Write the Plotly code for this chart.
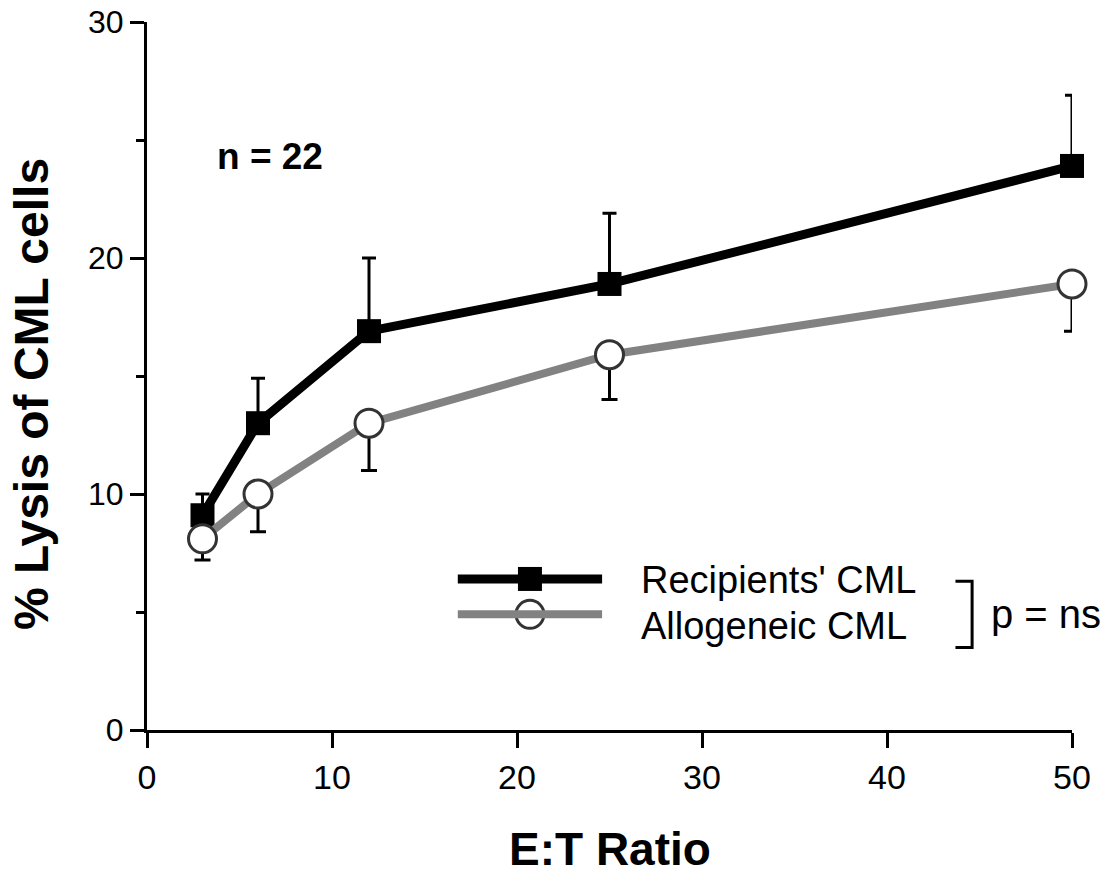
import plotly.graph_objects as go

# ---- data ----
et_ratio = [3, 6, 12, 25, 50]
recipients_mean = [9.1, 13.0, 16.9, 18.9, 23.9]
recipients_err_up = [0.9, 1.9, 3.1, 3.0, 3.0]
allogeneic_mean = [8.1, 10.0, 13.0, 15.9, 18.9]
allogeneic_err_down = [0.9, 1.6, 2.0, 1.9, 2.0]
x_ticks = [0, 10, 20, 30, 40, 50]
y_ticks = [0, 10, 20, 30]
series_names = ["Recipients' CML", "Allogeneic CML"]

BLACK = "#000000"
GRAY = "#828282"
FONT = "Liberation Sans"

fig = go.Figure()

fig.add_trace(go.Scatter(
    x=et_ratio, y=recipients_mean, name=series_names[0], mode="lines+markers",
    line=dict(color=BLACK, width=9),
    marker=dict(symbol="square", size=24, color=BLACK),
    error_y=dict(type="data", symmetric=False, array=recipients_err_up,
                 arrayminus=[0] * len(et_ratio), color=BLACK, thickness=3, width=7),
    cliponaxis=False, showlegend=False,
))
fig.add_trace(go.Scatter(
    x=et_ratio, y=allogeneic_mean, name=series_names[1], mode="lines+markers",
    line=dict(color=GRAY, width=8),
    marker=dict(symbol="circle", size=28, color="white", line=dict(color="#333333", width=3)),
    error_y=dict(type="data", symmetric=False, array=[0] * len(et_ratio),
                 arrayminus=allogeneic_err_down, color=BLACK, thickness=3, width=8),
    cliponaxis=False, showlegend=False,
))

# ---- hand-drawn legend (data coordinates) ----
lx0, lx1, lxm = 16.8, 24.6, 20.7
ly_rec, ly_allo = 6.4, 4.9
fig.add_shape(type="line", x0=lx0, x1=lx1, y0=ly_rec, y1=ly_rec,
              line=dict(color=BLACK, width=9))
fig.add_shape(type="line", x0=lx0, x1=lx1, y0=ly_allo, y1=ly_allo,
              line=dict(color=GRAY, width=8))
fig.add_trace(go.Scatter(x=[lxm], y=[ly_rec], mode="markers", showlegend=False,
                         marker=dict(symbol="square", size=24, color=BLACK),
                         hoverinfo="skip", cliponaxis=False))
fig.add_trace(go.Scatter(x=[lxm], y=[ly_allo], mode="markers", showlegend=False,
                         marker=dict(symbol="circle", size=28, color="white",
                                     line=dict(color="#333333", width=3)),
                         hoverinfo="skip", cliponaxis=False))

fig.add_annotation(x=26.6, y=6.35, xref="x", yref="y", text=series_names[0],
                   showarrow=False, xanchor="left", yanchor="middle",
                   font=dict(family=FONT, size=38, color=BLACK))
fig.add_annotation(x=26.6, y=4.4, xref="x", yref="y", text=series_names[1],
                   showarrow=False, xanchor="left", yanchor="middle",
                   font=dict(family=FONT, size=38, color=BLACK))
# bracket
bx, bx_in = 44.6, 43.7
by0, by1 = 6.3, 3.5
fig.add_shape(type="path",
              path=f"M {bx_in},{by0} L {bx},{by0} L {bx},{by1} L {bx_in},{by1}",
              line=dict(color=BLACK, width=3))
fig.add_annotation(x=45.5, y=4.9, xref="x", yref="y", text="p = ns",
                   showarrow=False, xanchor="left", yanchor="middle",
                   font=dict(family=FONT, size=40, color=BLACK))

fig.add_annotation(x=0.133, y=0.81, xref="paper", yref="paper", text="<b>n = 22</b>",
                   showarrow=False, xanchor="center", yanchor="middle",
                   font=dict(family=FONT, size=37, color=BLACK))

# axis titles
fig.add_annotation(x=-0.125, y=0.475, xref="paper", yref="paper",
                   text="<b>% Lysis of CML cells</b>", textangle=-90, showarrow=False,
                   xanchor="center", yanchor="middle",
                   font=dict(family=FONT, size=48, color=BLACK))
fig.add_annotation(x=0.5, y=-0.168, xref="paper", yref="paper",
                   text="<b>E:T Ratio</b>", showarrow=False,
                   xanchor="center", yanchor="middle",
                   font=dict(family=FONT, size=46, color=BLACK))

fig.update_xaxes(range=[0, 50], tickvals=x_ticks, ticktext=[str(v) for v in x_ticks],
                 showline=True, linecolor=BLACK, linewidth=3, ticks="outside",
                 ticklen=15, tickwidth=3, tickcolor=BLACK, showgrid=False,
                 zeroline=False, ticklabeloverflow="allow", automargin=False,
                 tickfont=dict(family=FONT, size=34, color=BLACK))
fig.update_yaxes(range=[0, 30], tickvals=y_ticks, ticktext=[str(v) for v in y_ticks],
                 showline=True, linecolor=BLACK, linewidth=3, ticks="outside",
                 ticklen=14, tickwidth=3, tickcolor=BLACK, showgrid=False,
                 zeroline=False, ticklabeloverflow="allow", automargin=False,
                 tickfont=dict(family=FONT, size=32, color=BLACK),
                 minor=dict(dtick=5, ticks="outside", ticklen=8, tickwidth=3,
                            tickcolor=BLACK, showgrid=False))

fig.update_layout(width=1111, height=879, plot_bgcolor="white", paper_bgcolor="white",
                  margin=dict(l=147, r=39, t=22, b=149), showlegend=False)

fig.write_html("out.html")
